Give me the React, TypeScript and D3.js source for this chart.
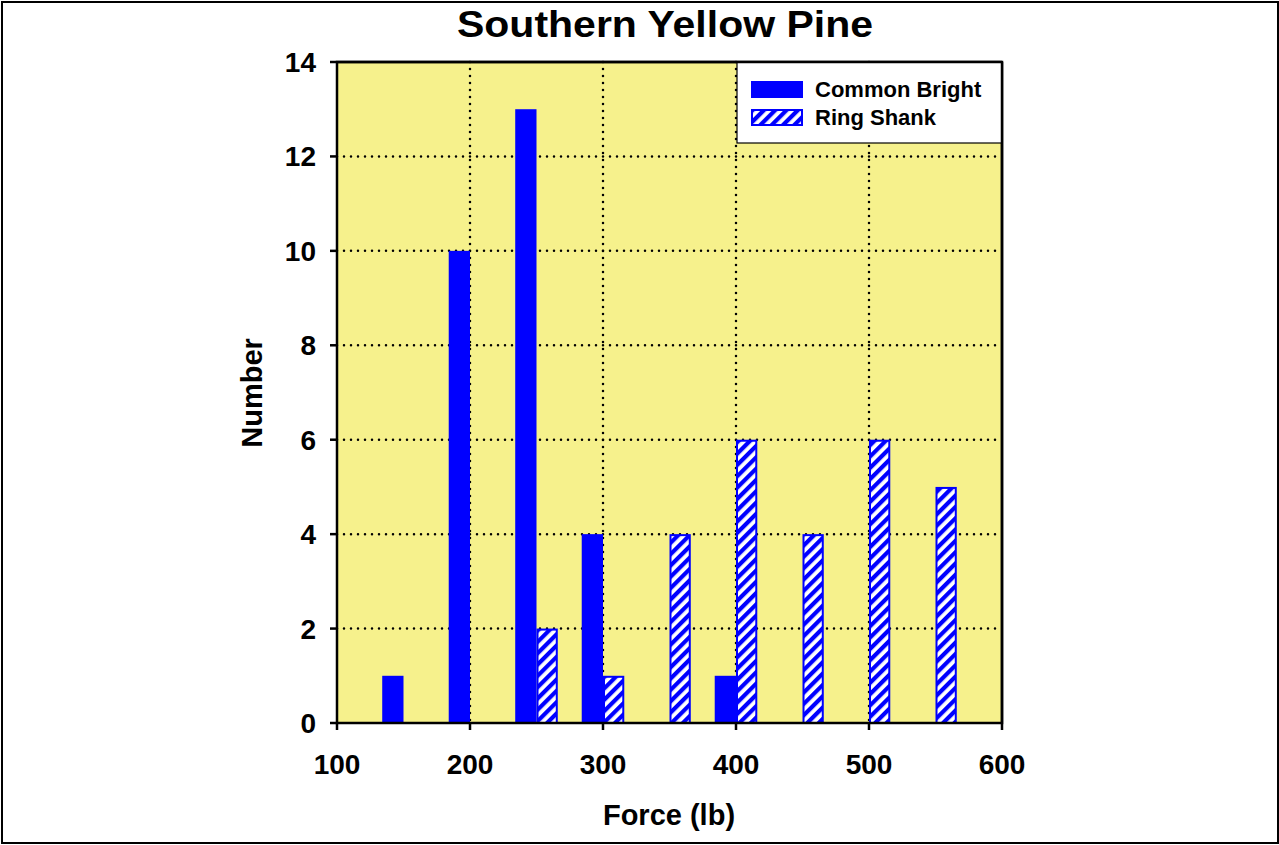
import React from "react";
import * as d3 from "d3";

// Withdrawal force histogram, Southern Yellow Pine
const forceBins = [150, 200, 250, 300, 350, 400, 450, 500, 550];
const commonBright = [1, 10, 13, 4, 0, 1, 0, 0, 0];
const ringShank = [0, 0, 2, 1, 4, 6, 4, 6, 5];
const xTicks = [100, 200, 300, 400, 500, 600];
const yTicks = [0, 2, 4, 6, 8, 10, 12, 14];
const seriesNames = ["Common Bright", "Ring Shank"];

const W = 1279;
const H = 845;
const M = { left: 337, top: 62, right: 1002, bottom: 723 };
const BAR_W = 16; // bar width in force units
const BLUE = "#0000ff";
const FONT = "'Liberation Sans', Arial, sans-serif";

export default function App() {
  const x = d3.scaleLinear().domain([100, 600]).range([M.left, M.right]);
  const y = d3.scaleLinear().domain([0, 14]).range([M.bottom, M.top]);

  const cb = forceBins.map((f, i) => ({ f, v: commonBright[i] })).filter((d) => d.v > 0);
  const rs = forceBins.map((f, i) => ({ f, v: ringShank[i] })).filter((d) => d.v > 0);

  return (
    <svg
      width={W}
      height={H}
      style={{ position: "absolute", left: 0, top: 0, display: "block" }}
      fontFamily={FONT}
    >
      <defs>
        <pattern
          id="hatch"
          patternUnits="userSpaceOnUse"
          width={8}
          height={8}
          patternTransform="rotate(45)"
        >
          <rect width={8} height={8} fill="#ffffff" />
          <rect width={4.2} height={8} fill={BLUE} />
        </pattern>
      </defs>
      <rect x={0} y={0} width={W} height={H} fill="#ffffff" />
      <rect x={2} y={2} width={W - 3} height={H - 4} fill="none" stroke="#000" strokeWidth={2} />

      <text
        x={665}
        y={37}
        textAnchor="middle"
        fontSize={36}
        fontWeight="bold"
        textLength={416}
        lengthAdjust="spacingAndGlyphs"
      >
        Southern Yellow Pine
      </text>

      {/* plot area */}
      <rect x={M.left} y={M.top} width={M.right - M.left} height={M.bottom - M.top} fill="#f6f18c" />

      {/* dotted grid */}
      {yTicks.slice(1, -1).map((t) => (
        <line
          key={"gy" + t}
          x1={M.left}
          x2={M.right}
          y1={y(t)}
          y2={y(t)}
          stroke="#000"
          strokeWidth={2.5}
          strokeDasharray="0 7"
          strokeLinecap="round"
        />
      ))}
      {xTicks.slice(1, -1).map((t) => (
        <line
          key={"gx" + t}
          x1={x(t)}
          x2={x(t)}
          y1={M.top}
          y2={M.bottom}
          stroke="#000"
          strokeWidth={2.5}
          strokeDasharray="0 7"
          strokeLinecap="round"
        />
      ))}

      {/* bars */}
      {cb.map((d) => (
        <rect
          key={"cb" + d.f}
          x={x(d.f - BAR_W)}
          y={y(d.v)}
          width={x(d.f) - x(d.f - BAR_W)}
          height={y(0) - y(d.v)}
          fill={BLUE}
        />
      ))}
      {rs.map((d) => (
        <rect
          key={"rs" + d.f}
          x={x(d.f) + 1}
          y={y(d.v) + 1}
          width={x(d.f + BAR_W) - x(d.f) - 2}
          height={y(0) - y(d.v) - 1}
          fill="url(#hatch)"
          stroke={BLUE}
          strokeWidth={2}
        />
      ))}

      {/* plot frame */}
      <rect
        x={M.left}
        y={M.top}
        width={M.right - M.left}
        height={M.bottom - M.top}
        fill="none"
        stroke="#000"
        strokeWidth={2.5}
      />

      {/* y axis ticks and labels */}
      {yTicks.map((t) => (
        <g key={"yt" + t}>
          <line x1={M.left - 7} x2={M.left} y1={y(t)} y2={y(t)} stroke="#000" strokeWidth={2.5} />
          <text x={M.left - 21} y={y(t) + 10} textAnchor="end" fontSize={28} fontWeight="bold">
            {t}
          </text>
        </g>
      ))}
      {/* x axis ticks and labels */}
      {xTicks.map((t) => (
        <g key={"xt" + t}>
          <line x1={x(t)} x2={x(t)} y1={M.bottom} y2={M.bottom + 7} stroke="#000" strokeWidth={2.5} />
          <text x={x(t)} y={774} textAnchor="middle" fontSize={28} fontWeight="bold">
            {t}
          </text>
        </g>
      ))}

      <text x={669} y={825} textAnchor="middle" fontSize={29} fontWeight="bold">
        Force (lb)
      </text>
      <text
        transform="translate(262,393) rotate(-90)"
        textAnchor="middle"
        fontSize={29}
        fontWeight="bold"
      >
        Number
      </text>

      {/* legend */}
      <rect x={737} y={62} width={265} height={81} fill="#ffffff" stroke="#000" strokeWidth={1.2} />
      <rect x={751} y={81} width={52} height={17} fill={BLUE} />
      <rect x={752} y={110} width={50} height={15} fill="url(#hatch)" stroke={BLUE} strokeWidth={2} />
      <text x={815} y={97} fontSize={22} fontWeight="bold">
        {seriesNames[0]}
      </text>
      <text x={815} y={125} fontSize={22} fontWeight="bold">
        {seriesNames[1]}
      </text>
      {/* frame redrawn over the legend edges */}
      <line x1={M.left} x2={M.right} y1={M.top} y2={M.top} stroke="#000" strokeWidth={2.5} />
      <line x1={M.right} x2={M.right} y1={M.top} y2={M.bottom} stroke="#000" strokeWidth={2.5} />
    </svg>
  );
}
